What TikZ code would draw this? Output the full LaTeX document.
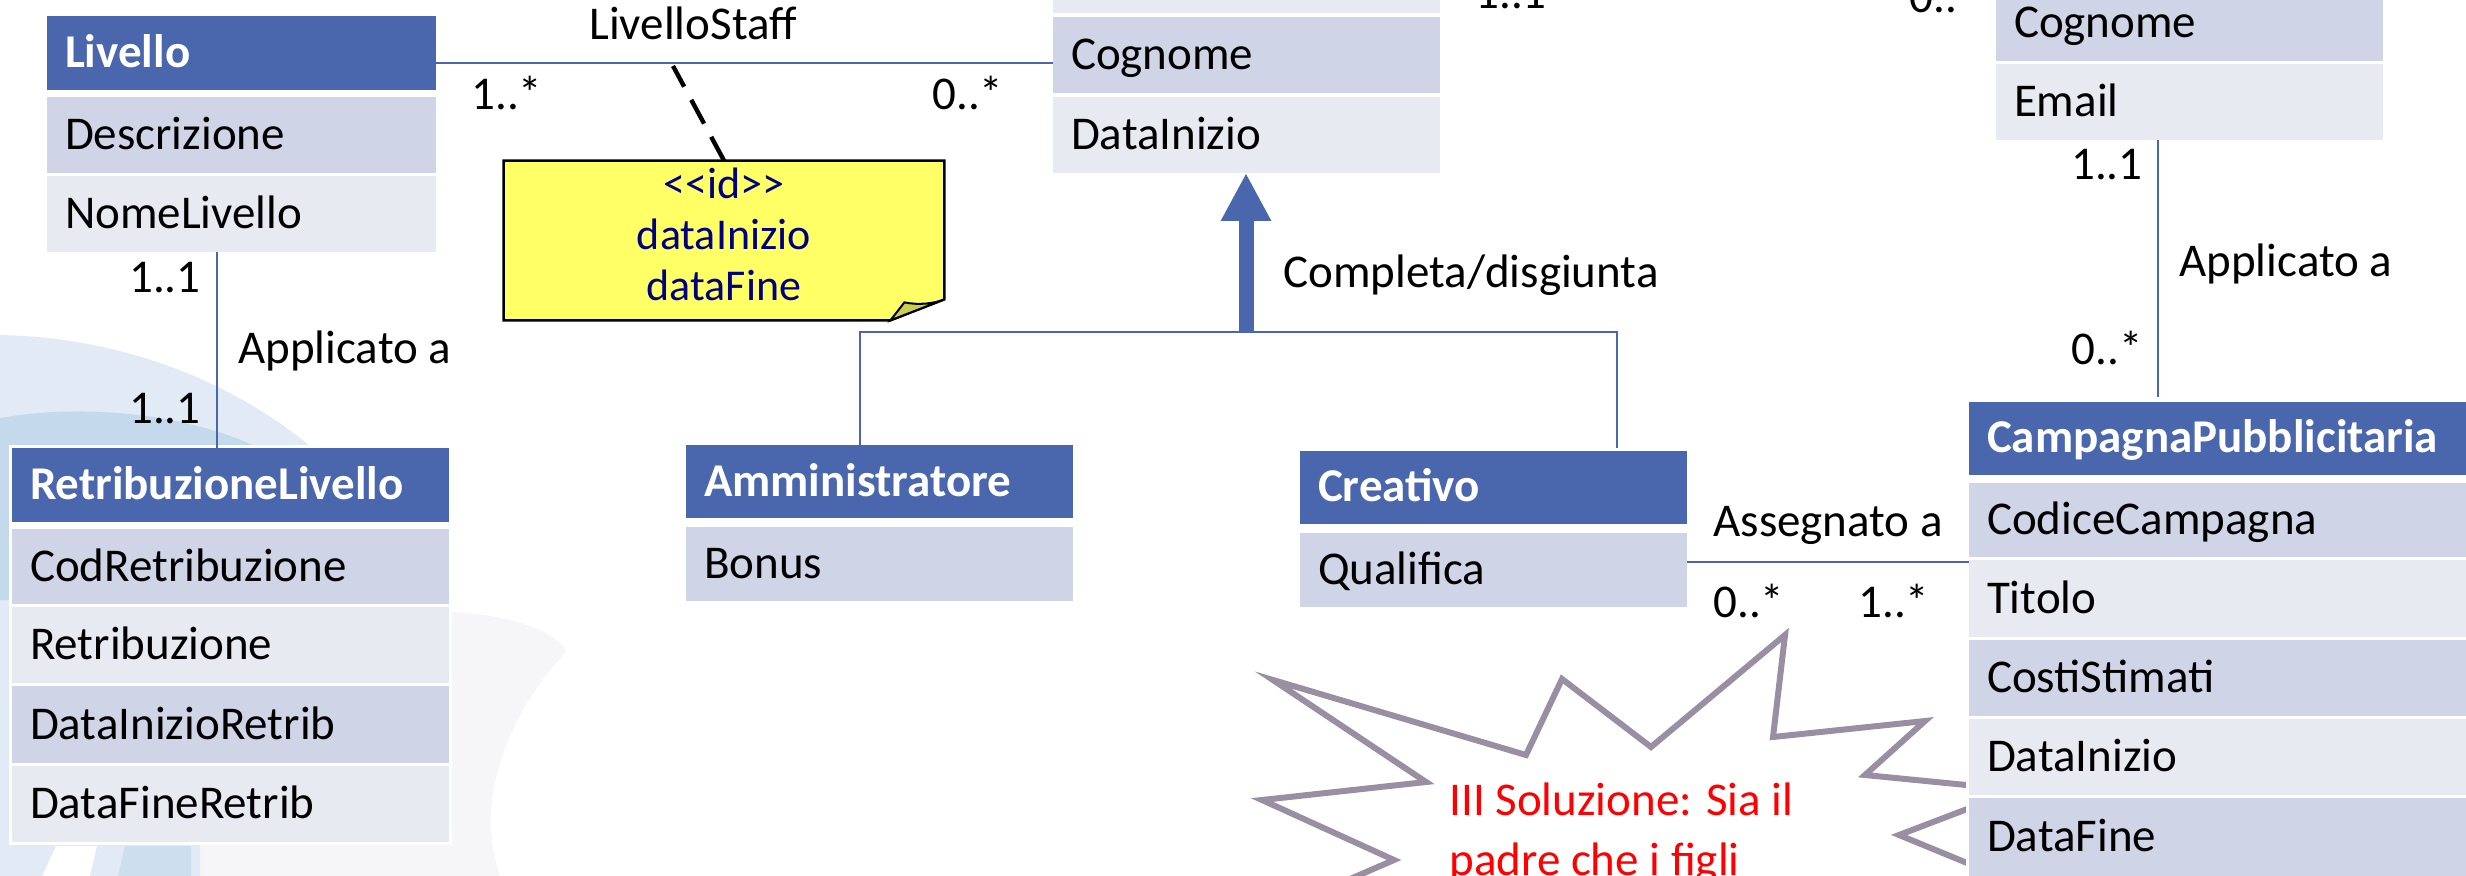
\documentclass[tikz,border=0pt]{standalone}
\usepackage{fontspec}
\setmainfont{Carlito}
\usetikzlibrary{arrows.meta,calc}
\definecolor{hblue}{HTML}{4A66AC}
\definecolor{rdark}{HTML}{CFD4E6}
\definecolor{rlight}{HTML}{E8EAF2}
\definecolor{lineblue}{HTML}{4A66AC}
\definecolor{noteyellow}{HTML}{FFFF66}
\definecolor{notefold}{HTML}{CDCD52}
\definecolor{notetext}{HTML}{000080}
\definecolor{stargray}{HTML}{9A8FA2}
\definecolor{swlight}{HTML}{E2EBF5}
\definecolor{swmid}{HTML}{C4D9EC}
\definecolor{swgray}{HTML}{F6F6F8}
\pgfdeclarelayer{deco}
\pgfdeclarelayer{frame}
\pgfsetlayers{deco,frame,main}
\newcommand\umlrow[7]{%
  \pgfmathsetmacro\rowW{(#5-#3)*0.5}%
  \pgfmathsetmacro\rowH{(#6-#4)*0.5}%
  \pgfmathsetmacro\rowT{\rowW-18}%
  \node[#2, minimum width=\rowW pt, minimum height=\rowH pt, text width=\rowT pt] (#1) at (#3,#4) {#7};}
\tikzset{
  cell/.style={anchor=north west, inner xsep=9pt, inner ysep=0pt, outer sep=0pt, text height=15pt, text depth=0.5pt, align=left},
  hdr/.style={cell, fill=hblue, text=white, font=\fontsize{23.5pt}{28pt}\selectfont\bfseries},
  rowd/.style={cell, fill=rdark},
  rowl/.style={cell, fill=rlight},
  assoc/.style={draw=lineblue, line width=1.1pt},
  genarr/.style={draw=hblue, line width=7.5pt, -{Triangle[width=23.5pt,length=24pt]}},
  notelink/.style={draw=black, line width=2.2pt, dash pattern=on 13.5pt off 7.5pt},
  lbl/.style={anchor=base west, inner sep=0pt},
  lblr/.style={anchor=base east, inner sep=0pt},
  soltext/.style={anchor=base west, inner sep=0pt, text=red},
}
\begin{document}
\begin{tikzpicture}[x=0.5pt,y=-0.5pt,font=\fontsize{23.5pt}{28pt}\selectfont]
\useasboundingbox (0,0) rectangle (2466,876);

% ---------- background decoration ----------
\begin{pgfonlayer}{deco}
  \fill[swgray] (449,612) .. controls (520,615) and (560,635) .. (566,652)
     .. controls (520,700) and (470,790) .. (500,876) -- (194,876) -- (194,840) -- (449,840) -- cycle;
  \fill[swlight] (0,335) .. controls (120,337) and (230,380) .. (310,446)
     -- (200,846) -- (56,846) -- (42,876) -- (0,876) -- cycle;
  \fill[swmid] (0,418) .. controls (80,404) and (180,412) .. (255,446) -- (255,600) -- (0,600) -- cycle;
  \fill[swlight] (97,846) -- (200,846) -- (200,876) -- (90,876) -- cycle;
  \fill[swmid!70!swlight] (125,846) -- (191,846) -- (191,876) -- (118,876) -- cycle;
  % explosion callout
  \filldraw[fill=white, draw=stargray, line width=3pt, line join=miter]
    (1290,905) -- (1394,860) -- (1262,800) -- (1426,782) -- (1273,680) -- (1526,755)
    -- (1562,679) -- (1651,747) -- (1785,635) -- (1773,737) -- (1925,721) -- (1865,775)
    -- (2017,790) -- (1899,835) -- (2040,893) -- (2040,990) -- (1290,990) -- cycle;
\end{pgfonlayer}

% ---------- classes ----------
\umlrow{livH}{hdr}{47}{16}{436}{90}{Livello}
\umlrow{livD}{rowd}{47}{97}{436}{173}{Descrizione}
\umlrow{livN}{rowl}{47}{176}{436}{252}{NomeLivello}

\umlrow{stfT}{rowl}{1053}{-64}{1440}{13}{}
\umlrow{stfC}{rowd}{1053}{17}{1440}{93}{Cognome}
\umlrow{stfD}{rowl}{1053}{97}{1440}{173}{DataInizio}

\umlrow{cliC}{rowd}{1996}{-15}{2383}{61}{Cognome}
\umlrow{cliE}{rowl}{1996}{64}{2383}{140}{Email}

\umlrow{retH}{hdr}{12}{448}{449}{522}{RetribuzioneLivello}
\umlrow{retC}{rowd}{12}{529}{449}{604}{CodRetribuzione}
\umlrow{retR}{rowl}{12}{607}{449}{683}{Retribuzione}
\umlrow{retI}{rowd}{12}{686}{449}{763}{DataInizioRetrib}
\umlrow{retF}{rowl}{12}{766}{449}{842}{DataFineRetrib}

\umlrow{admH}{hdr}{686}{445}{1073}{518}{Amministratore}
\umlrow{admB}{rowd}{686}{527}{1073}{601}{Bonus}

\umlrow{creH}{hdr}{1300}{451}{1687}{524}{Creativo}
\umlrow{creQ}{rowd}{1300}{533}{1687}{607}{Qualifica}

\umlrow{camH}{hdr}{1969}{402}{2480}{475}{CampagnaPubblicitaria}
\umlrow{camC}{rowd}{1969}{483}{2480}{557}{CodiceCampagna}
\umlrow{camT}{rowl}{1969}{560}{2480}{637}{Titolo}
\umlrow{camS}{rowd}{1969}{640}{2480}{716}{CostiStimati}
\umlrow{camI}{rowl}{1969}{719}{2480}{795}{DataInizio}
\umlrow{camF}{rowd}{1969}{798}{2480}{876}{DataFine}

\begin{pgfonlayer}{frame}
  \fill[white] ($(livH.north west)+(-3,-3)$) rectangle ($(livN.south east)+(3,3)$);
  \fill[white] ($(stfT.north west)+(-3,-3)$) rectangle ($(stfD.south east)+(3,3)$);
  \fill[white] ($(cliC.north west)+(-3,-3)$) rectangle ($(cliE.south east)+(3,3)$);
  \fill[white] ($(retH.north west)+(-3,-3)$) rectangle ($(retF.south east)+(3,3)$);
  \fill[white] ($(admH.north west)+(-3,-3)$) rectangle ($(admB.south east)+(3,3)$);
  \fill[white] ($(creH.north west)+(-3,-3)$) rectangle ($(creQ.south east)+(3,3)$);
  \fill[white] ($(camH.north west)+(-3,-3)$) rectangle ($(camF.south east)+(3,3)$);
\end{pgfonlayer}

% ---------- note ----------
\node[minimum width=220pt, minimum height=79.5pt, inner sep=0pt] (note) at (724,240.5) {};
\fill[noteyellow, draw=black, line width=1.2pt] (note.north west) -- (note.north east)
   -- ($(note.south east)+(0,-21)$) -- ($(note.south east)+(-54,0)$) -- (note.south west) -- cycle;
\filldraw[fill=notefold, draw=black, line width=1pt] ($(note.south east)+(-54,0)$)
   -- ($(note.south east)+(-40,-18)$) .. controls ($(note.south east)+(-25,-15)$) and ($(note.south east)+(-10,-17)$) .. ($(note.south east)+(0,-21)$) -- cycle;
\node[align=center, text=notetext, inner sep=0pt, font=\fontsize{22pt}{25.5pt}\selectfont] (notetxt) at ($(note.center)+(0,-6)$)
   {<\kern0pt<id>\kern0pt>\\dataInizio\\dataFine};

% ---------- connectors ----------
\coordinate (lsA) at ($(livH.south east)+(0,-27)$);
\draw[assoc] (lsA) -- (lsA -| stfC.west);
\coordinate (lsD) at (673,66);
\draw[notelink] (note.north) -- (lsD);

\coordinate (lrA) at ($(livN.south west)+(170,0)$);
\draw[assoc] (lrA) -- (lrA |- retH.north);

\coordinate (gj) at (1246,332);
\draw[genarr] (gj) -- (gj |- stfD.south);
\coordinate (gl) at ($(admH.north)+(-19.5,0)$);
\coordinate (gr) at ($(creH.north east)+(-70,-3)$);
\draw[assoc] (gl) -- (gl |- gj) -- (gr |- gj) -- (gr);

\coordinate (ceA) at ($(cliE.south west)+(162,0)$);
\coordinate (ceB) at ($(ceA |- camH.north)+(0,-5)$);
\draw[assoc] (ceA) -- (ceB);

\coordinate (asA) at ($(creQ.east)+(0,-8)$);
\draw[assoc] (asA) -- (asA -| camC.west);

% ---------- labels ----------
\node[lbl] (lblLS) at (589,40) {LivelloStaff};
\node[lbl] (m1) at (471,110) {1..*};
\node[lbl] (m2) at (932,110) {0..*};
\node[lblr] (m3) at (201,293) {1..1};
\node[lblr] (m4) at (201,424) {1..1};
\node[lbl] (lblAp1) at (238,364) {Applicato a};
\node[lbl] (lblGen) at (1283,288) {Completa/disgiunta};
\node[lblr] (m5) at (2143,180) {1..1};
\node[lbl] (lblAp2) at (2179,277) {Applicato a};
\node[lblr] (m6) at (2143,365) {0..*};
\node[lbl] (lblAs) at (1713,537) {Assegnato a};
\node[lbl] (m7) at (1713,617) {0..*};
\node[lbl] (m8) at (1858,617) {1..*};
\node[lbl] (m9) at (1475,9) {1..1};
\node[lbl] (m10) at (1909,13) {0..*};
\node[soltext] (sol1) at (1449,815) {III Soluzione: Sia il};
\node[soltext] (sol2) at (1449,875) {padre che i figli};
\end{tikzpicture}
\end{document}
